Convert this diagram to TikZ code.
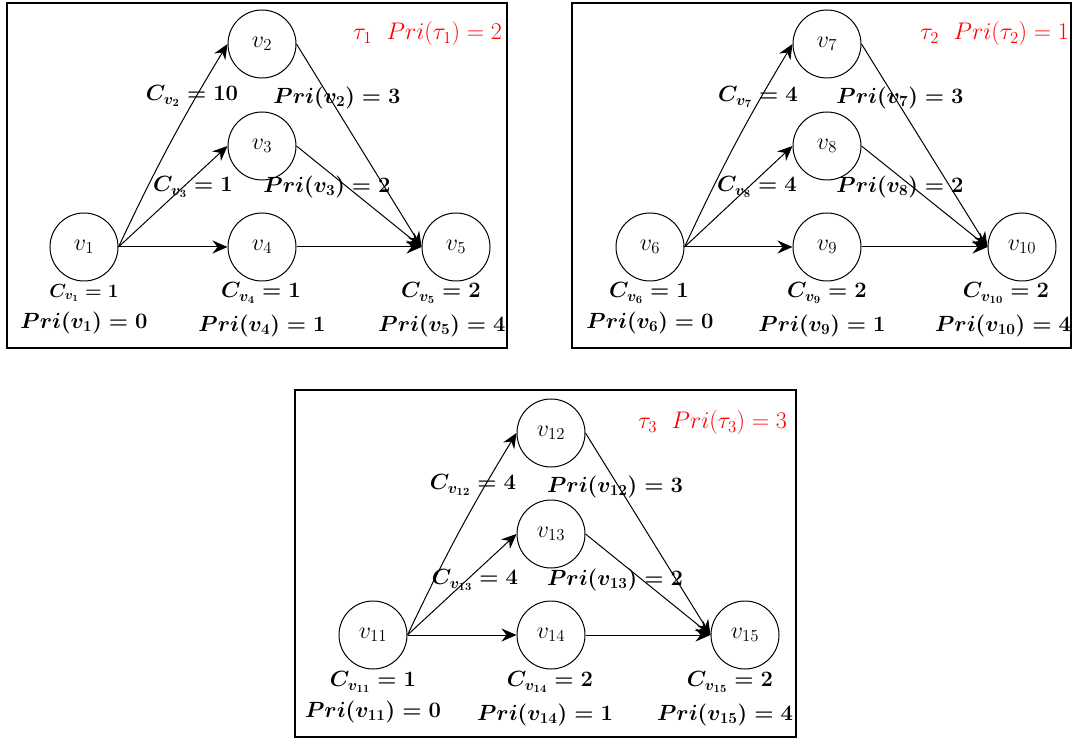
\documentclass[tikz,border=0pt]{standalone}
\usepackage{fix-cm}
\usepackage{amsmath}
\usetikzlibrary{arrows.meta}
\tikzset{
 vtx/.style={circle, draw, line width=1pt, minimum size=68pt, inner sep=0pt, font=\fontsize{24}{28}\selectfont},
 lbl/.style={font=\fontsize{22}{26}\selectfont\boldmath, inner sep=0pt},
 slbl/.style={font=\fontsize{19}{22}\selectfont\boldmath, inner sep=0pt},
 ttl/.style={font=\fontsize{24}{28}\selectfont, text=red, anchor=west, inner sep=0pt},
 frame/.style={draw, line width=2pt},
 arr/.style={-{Stealth[length=15pt,width=13pt,inset=5pt]}, line width=1pt},
}
\begin{document}
\begin{tikzpicture}[x=1pt,y=-1pt]
\useasboundingbox (0,0) rectangle (1072,738);
% ---------- box 1 ----------
\begin{scope}
\draw[frame] (7,3) rectangle (507,348);
\node[vtx] (v1) at (84,247) {$v_1$};
\node[vtx] (v2) at (262,44) {$v_2$};
\node[vtx] (v3) at (262,146) {$v_3$};
\node[vtx] (v4) at (262,247) {$v_4$};
\node[vtx] (v5) at (456,247) {$v_5$};
\draw[arr] (v1.east) to[bend left=3] (v2.west);
\draw[arr] (v1.east) -- (v3.west);
\draw[arr] (v1.east) -- (v4.west);
\draw[arr] (v2.east) -- (v5.west);
\draw[arr] (v3.east) -- (v5.west);
\draw[arr] (v4.east) -- (v5.west);
\node[lbl] (c2) at (192,96) {$C_{v_2} = 10$};
\node[lbl] (p2) at (337,98) {$Pri(v_2) = 3$};
\node[lbl] (c3) at (193,187) {$C_{v_3} = 1$};
\node[lbl] (p3) at (327,187) {$Pri(v_3) = 2$};
\node[slbl] (c1) at (84,293) {$C_{v_1} = 1$};
\node[lbl] (p1) at (84,323) {$Pri(v_1) = 0$};
\node[lbl] (c4) at (261,293) {$C_{v_4} = 1$};
\node[lbl] (p4) at (262,326) {$Pri(v_4) = 1$};
\node[lbl] (c5) at (441,293) {$C_{v_5} = 2$};
\node[lbl] (p5) at (442,326) {$Pri(v_5) = 4$};
\node[ttl] (t1) at (353,34) {$\tau_1\ \ Pri(\tau_1) = 2$};
\end{scope}
% ---------- box 2 ----------
\begin{scope}[shift={(565,0)}]
\draw[frame] (7,3) rectangle (506,348);
\node[vtx] (v6) at (85,247) {$v_6$};
\node[vtx] (v7) at (262,44) {$v_7$};
\node[vtx] (v8) at (262,146) {$v_8$};
\node[vtx] (v9) at (262,247) {$v_9$};
\node[vtx] (v10) at (457,247) {$v_{10}$};
\draw[arr] (v6.east) to[bend left=3] (v7.west);
\draw[arr] (v6.east) -- (v8.west);
\draw[arr] (v6.east) -- (v9.west);
\draw[arr] (v7.east) -- (v10.west);
\draw[arr] (v8.east) -- (v10.west);
\draw[arr] (v9.east) -- (v10.west);
\node[lbl] (c7) at (193,97) {$C_{v_7} = 4$};
\node[lbl] (p7) at (335,98) {$Pri(v_7) = 3$};
\node[lbl] (c8) at (192,187) {$C_{v_8} = 4$};
\node[lbl] (p8) at (335,187) {$Pri(v_8) = 2$};
\node[lbl] (c6) at (84,293) {$C_{v_6} = 1$};
\node[lbl] (p6) at (85,323) {$Pri(v_6) = 0$};
\node[lbl] (c9) at (262,293) {$C_{v_9} = 2$};
\node[lbl] (p9) at (257,326) {$Pri(v_9) = 1$};
\node[lbl] (c10) at (441,293) {$C_{v_{10}} = 2$};
\node[lbl] (p10) at (438,326) {$Pri(v_{10}) = 4$};
\node[ttl] (t2) at (355,34) {$\tau_2\ \ Pri(\tau_2) = 1$};
\end{scope}
% ---------- box 3 ----------
\begin{scope}[shift={(288,388)}]
\draw[frame] (7,2) rectangle (508,349);
\node[vtx] (v11) at (85,247) {$v_{11}$};
\node[vtx] (v12) at (263,45) {$v_{12}$};
\node[vtx] (v13) at (263,146) {$v_{13}$};
\node[vtx] (v14) at (263,247) {$v_{14}$};
\node[vtx] (v15) at (457,247) {$v_{15}$};
\draw[arr] (v11.east) to[bend left=3] (v12.west);
\draw[arr] (v11.east) -- (v13.west);
\draw[arr] (v11.east) -- (v14.west);
\draw[arr] (v12.east) -- (v15.west);
\draw[arr] (v13.east) -- (v15.west);
\draw[arr] (v14.east) -- (v15.west);
\node[lbl] (c12) at (185,97) {$C_{v_{12}} = 4$};
\node[lbl] (p12) at (327,99) {$Pri(v_{12}) = 3$};
\node[lbl] (c13) at (187,192) {$C_{v_{13}} = 4$};
\node[lbl] (p13) at (327,192) {$Pri(v_{13}) = 2$};
\node[lbl] (c11) at (85,294) {$C_{v_{11}} = 1$};
\node[lbl] (p11) at (85,324) {$Pri(v_{11}) = 0$};
\node[lbl] (c14) at (262,294) {$C_{v_{14}} = 2$};
\node[lbl] (p14) at (257,327) {$Pri(v_{14}) = 1$};
\node[lbl] (c15) at (442,294) {$C_{v_{15}} = 2$};
\node[lbl] (p15) at (437,327) {$Pri(v_{15}) = 4$};
\node[ttl] (t3) at (350,35) {$\tau_3\ \ Pri(\tau_3) = 3$};
\end{scope}
\end{tikzpicture}
\end{document}
